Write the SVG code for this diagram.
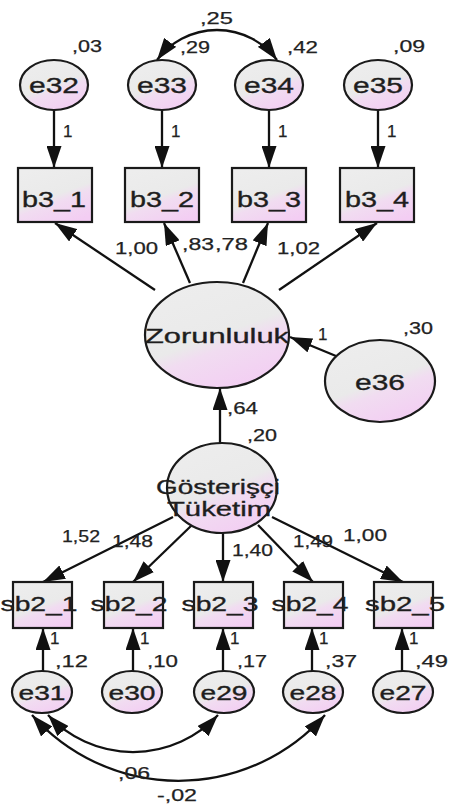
<svg xmlns="http://www.w3.org/2000/svg" width="450" height="807" viewBox="0 0 450 807">
<defs>
<linearGradient id="fill" x1="0.25" y1="0" x2="0.75" y2="1">
<stop offset="0" stop-color="#ededed"/>
<stop offset="0.5" stop-color="#eaeaea"/>
<stop offset="0.62" stop-color="#f1dcf1"/>
<stop offset="1" stop-color="#f3cdf3"/>
</linearGradient>
<marker id="ah" viewBox="0 0 22 15" refX="22" refY="7.5" markerWidth="22" markerHeight="15" markerUnits="userSpaceOnUse" orient="auto-start-reverse">
<path d="M0,0 L22,7.5 L0,15 z" fill="#111"/>
</marker>
<style>
.n ellipse,.n rect{fill:url(#fill);stroke:#1a1a1a;stroke-width:2.2}
.n text{font-family:"Liberation Sans",Arial,sans-serif;fill:#1e1e1e;stroke:#1e1e1e;stroke-width:0.35;text-anchor:middle}
.c line,.c path{stroke:#111;stroke-width:2.3;fill:none;marker-end:url(#ah)}
.c .bi{marker-start:url(#ah)}
.l text{font-family:"Liberation Sans",Arial,sans-serif;fill:#222;stroke:#222;stroke-width:0.25;font-size:17px}
</style>
</defs>
<rect width="450" height="807" fill="#ffffff"/>

<g class="c" id="connectors">
<line x1="54" y1="110" x2="54" y2="168"/>
<line x1="162" y1="110" x2="162" y2="168"/>
<line x1="269" y1="110" x2="269" y2="168"/>
<line x1="378" y1="110" x2="378" y2="168"/>
<path class="bi" d="M157,60 A75,75 0 0 1 277,60"/>
<line x1="155" y1="290" x2="55" y2="223"/>
<line x1="190" y1="283" x2="164" y2="223"/>
<line x1="243" y1="283" x2="268" y2="223"/>
<line x1="279" y1="290" x2="377" y2="223"/>
<line x1="336" y1="356" x2="290" y2="337"/>
<line x1="220" y1="443" x2="220" y2="388"/>
<line x1="173" y1="517" x2="43" y2="582"/>
<line x1="192" y1="525" x2="133" y2="582"/>
<line x1="223" y1="533" x2="223" y2="582"/>
<line x1="258" y1="525" x2="313" y2="582"/>
<line x1="272" y1="517" x2="403" y2="582"/>
<line x1="43" y1="671" x2="43" y2="628"/>
<line x1="133" y1="671" x2="133" y2="628"/>
<line x1="223" y1="671" x2="223" y2="628"/>
<line x1="312" y1="671" x2="312" y2="628"/>
<line x1="402" y1="671" x2="402" y2="628"/>
<path class="bi" d="M48,715 A116,116 0 0 0 218,715"/>
<path class="bi" d="M32,715 A196,196 0 0 0 325,715"/>
</g>

<g class="n" id="e32"><ellipse cx="54" cy="85" rx="34" ry="25"/><text x="54" y="93" font-size="22" textLength="50" lengthAdjust="spacingAndGlyphs">e32</text></g>
<g class="n" id="e33"><ellipse cx="162" cy="85" rx="34" ry="25"/><text x="162" y="93" font-size="22" textLength="50" lengthAdjust="spacingAndGlyphs">e33</text></g>
<g class="n" id="e34"><ellipse cx="269" cy="85" rx="34" ry="25"/><text x="269" y="93" font-size="22" textLength="50" lengthAdjust="spacingAndGlyphs">e34</text></g>
<g class="n" id="e35"><ellipse cx="378" cy="85" rx="34" ry="25"/><text x="378" y="93" font-size="22" textLength="50" lengthAdjust="spacingAndGlyphs">e35</text></g>

<g class="n" id="b3_1"><rect x="18" y="168" width="74" height="54"/><text x="54" y="207" font-size="22" textLength="64" lengthAdjust="spacingAndGlyphs">b3_1</text></g>
<g class="n" id="b3_2"><rect x="125" y="168" width="74" height="54"/><text x="162" y="207" font-size="22" textLength="64" lengthAdjust="spacingAndGlyphs">b3_2</text></g>
<g class="n" id="b3_3"><rect x="232" y="168" width="74" height="54"/><text x="269" y="207" font-size="22" textLength="64" lengthAdjust="spacingAndGlyphs">b3_3</text></g>
<g class="n" id="b3_4"><rect x="340" y="168" width="74" height="54"/><text x="377" y="207" font-size="22" textLength="64" lengthAdjust="spacingAndGlyphs">b3_4</text></g>

<g class="n" id="Zorunluluk"><ellipse cx="217" cy="335" rx="72" ry="53"/><text x="217" y="343" font-size="21" textLength="144" lengthAdjust="spacingAndGlyphs">Zorunluluk</text></g>
<g class="n" id="e36"><ellipse cx="380" cy="381" rx="55" ry="41"/><text x="380" y="390" font-size="22" textLength="50" lengthAdjust="spacingAndGlyphs">e36</text></g>
<g class="n" id="GosterisciTuketim"><ellipse cx="222" cy="488" rx="55" ry="45"/><text x="218" y="494" font-size="21" textLength="124" lengthAdjust="spacingAndGlyphs">Gösterişçi</text><text x="219" y="516" font-size="21" textLength="104" lengthAdjust="spacingAndGlyphs">Tüketim</text></g>

<g class="n" id="sb2_1"><rect x="13" y="582" width="59" height="46"/><text x="39" y="611" font-size="21" textLength="77" lengthAdjust="spacingAndGlyphs">sb2_1</text></g>
<g class="n" id="sb2_2"><rect x="104" y="582" width="59" height="46"/><text x="129" y="611" font-size="21" textLength="77" lengthAdjust="spacingAndGlyphs">sb2_2</text></g>
<g class="n" id="sb2_3"><rect x="194" y="582" width="59" height="46"/><text x="220" y="611" font-size="21" textLength="77" lengthAdjust="spacingAndGlyphs">sb2_3</text></g>
<g class="n" id="sb2_4"><rect x="284" y="582" width="59" height="46"/><text x="310" y="611" font-size="21" textLength="77" lengthAdjust="spacingAndGlyphs">sb2_4</text></g>
<g class="n" id="sb2_5"><rect x="374" y="582" width="59" height="46"/><text x="405" y="611" font-size="21" textLength="80" lengthAdjust="spacingAndGlyphs">sb2_5</text></g>

<g class="n" id="e31"><ellipse cx="42" cy="692" rx="30" ry="21"/><text x="42" y="700" font-size="20" textLength="47" lengthAdjust="spacingAndGlyphs">e31</text></g>
<g class="n" id="e30"><ellipse cx="132" cy="692" rx="30" ry="21"/><text x="132" y="700" font-size="20" textLength="47" lengthAdjust="spacingAndGlyphs">e30</text></g>
<g class="n" id="e29"><ellipse cx="224" cy="692" rx="30" ry="21"/><text x="224" y="700" font-size="20" textLength="47" lengthAdjust="spacingAndGlyphs">e29</text></g>
<g class="n" id="e28"><ellipse cx="313" cy="692" rx="30" ry="21"/><text x="313" y="700" font-size="20" textLength="47" lengthAdjust="spacingAndGlyphs">e28</text></g>
<g class="n" id="e27"><ellipse cx="403" cy="692" rx="30" ry="21"/><text x="403" y="700" font-size="20" textLength="47" lengthAdjust="spacingAndGlyphs">e27</text></g>

<g class="l" id="labels">
<text x="72" y="52" textLength="30" lengthAdjust="spacingAndGlyphs">,03</text>
<text x="180" y="53" textLength="30" lengthAdjust="spacingAndGlyphs">,29</text>
<text x="287" y="53" textLength="31" lengthAdjust="spacingAndGlyphs">,42</text>
<text x="393" y="52" textLength="32" lengthAdjust="spacingAndGlyphs">,09</text>
<text x="200" y="24" textLength="33" lengthAdjust="spacingAndGlyphs">,25</text>
<text x="63" y="137">1</text>
<text x="171" y="137">1</text>
<text x="278" y="137">1</text>
<text x="387" y="137">1</text>
<text x="115" y="254" textLength="43" lengthAdjust="spacingAndGlyphs">1,00</text>
<text x="182" y="250" textLength="32" lengthAdjust="spacingAndGlyphs">,83</text>
<text x="215" y="250" textLength="33" lengthAdjust="spacingAndGlyphs">,78</text>
<text x="277" y="254" textLength="43" lengthAdjust="spacingAndGlyphs">1,02</text>
<text x="318" y="340">1</text>
<text x="403" y="334" textLength="30" lengthAdjust="spacingAndGlyphs">,30</text>
<text x="227" y="414" textLength="31" lengthAdjust="spacingAndGlyphs">,64</text>
<text x="247" y="441" textLength="30" lengthAdjust="spacingAndGlyphs">,20</text>
<text x="62" y="542" textLength="38" lengthAdjust="spacingAndGlyphs">1,52</text>
<text x="112" y="547" textLength="41" lengthAdjust="spacingAndGlyphs">1,48</text>
<text x="232" y="556" textLength="41" lengthAdjust="spacingAndGlyphs">1,40</text>
<text x="293" y="547" textLength="40" lengthAdjust="spacingAndGlyphs">1,49</text>
<text x="343" y="541" textLength="44" lengthAdjust="spacingAndGlyphs">1,00</text>
<text x="50" y="644">1</text>
<text x="140" y="644">1</text>
<text x="230" y="644">1</text>
<text x="319" y="644">1</text>
<text x="409" y="644">1</text>
<text x="55" y="667" textLength="33" lengthAdjust="spacingAndGlyphs">,12</text>
<text x="147" y="667" textLength="31" lengthAdjust="spacingAndGlyphs">,10</text>
<text x="237" y="667" textLength="30" lengthAdjust="spacingAndGlyphs">,17</text>
<text x="325" y="667" textLength="32" lengthAdjust="spacingAndGlyphs">,37</text>
<text x="415" y="667" textLength="33" lengthAdjust="spacingAndGlyphs">,49</text>
<text x="118" y="779" textLength="32" lengthAdjust="spacingAndGlyphs">,06</text>
<text x="157" y="801" textLength="40" lengthAdjust="spacingAndGlyphs">-,02</text>
</g>
</svg>
